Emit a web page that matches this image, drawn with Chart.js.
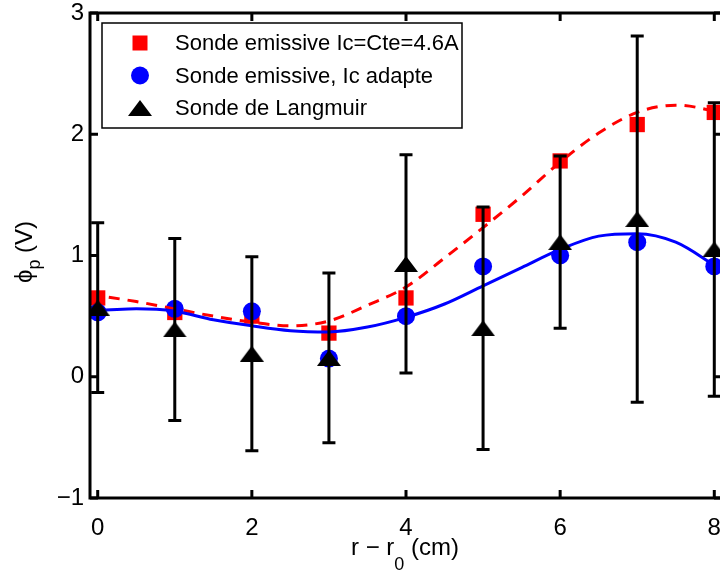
<!DOCTYPE html>
<html>
<head>
<meta charset="utf-8">
<script src="https://cdn.jsdelivr.net/npm/chart.js@4.4.1/dist/chart.umd.min.js"></script>
<style>
  html, body { margin: 0; padding: 0; background: #fff; overflow: hidden; }
  #wrap { position: absolute; left: 0; top: 0; width: 735px; height: 576px; }
</style>
</head>
<body>
<div id="wrap"><canvas id="potChart" width="735" height="576"></canvas></div>
<script>
// Radial positions r - r0 (cm)
const positions = [0, 1, 2, 3, 4, 5, 6, 7, 8];

// Plasma potential (V) for each probe
const emisCte = [0.65, 0.53, 0.50, 0.36, 0.65, 1.34, 1.78, 2.08, 2.18];
const emisAdapt = [0.53, 0.56, 0.54, 0.15, 0.50, 0.91, 1.00, 1.11, 0.91];
const langmuir = [0.57, 0.39, 0.19, 0.155, 0.93, 0.40, 1.11, 1.30, 1.05];
const langmuirErr = [0.70, 0.75, 0.80, 0.70, 0.90, 1.00, 0.71, 1.51, 1.21];

// Smoothed curves
const fitX = [-0.1, 0, 0.5, 1, 1.5, 2, 2.5, 3, 3.5, 4, 4.5, 5, 5.5, 6, 6.5, 7, 7.5, 8, 8.1];
const fitCte = [0.68, 0.67, 0.62, 0.56, 0.50, 0.45, 0.42, 0.46, 0.59, 0.74, 0.98, 1.23, 1.49, 1.77, 2.01, 2.18, 2.24, 2.19, 2.17];
const fitAdapt = [0.55, 0.55, 0.56, 0.54, 0.47, 0.42, 0.38, 0.37, 0.41, 0.49, 0.60, 0.75, 0.90, 1.05, 1.16, 1.18, 1.11, 0.92, 0.88];

const xTicks = [0, 2, 4, 6, 8];
const yTicks = [-1, 0, 1, 2, 3];

const legendLabels = ["Sonde emissive Ic=Cte=4.6A", "Sonde emissive, Ic adapte", "Sonde de Langmuir"];

const FONT = "'Liberation Sans', Arial, Helvetica, sans-serif";
const toPts = (xs, ys) => xs.map((x, i) => ({ x: x, y: ys[i] }));

// wide matlab-like triangle marker
function triangleMarker(w, h, color) {
    const c = document.createElement("canvas");
    c.width = w; c.height = h;
    const g = c.getContext("2d");
    g.fillStyle = color;
    g.beginPath();
    g.moveTo(w / 2, 0);
    g.lineTo(w, h);
    g.lineTo(0, h);
    g.closePath();
    g.fill();
    return c;
}
const tri = triangleMarker(24, 16, "#000");

// error bars on the Langmuir points
const errorBars = {
    id: "errorBars",
    afterDatasetsDraw(chart) {
        const ctx = chart.ctx;
        const xs = chart.scales.x, ys = chart.scales.y;
        ctx.save();
        ctx.strokeStyle = "#000";
        ctx.lineWidth = 3;
        positions.forEach((p, i) => {
            const px = xs.getPixelForValue(p);
            const top = ys.getPixelForValue(langmuir[i] + langmuirErr[i]);
            const bot = ys.getPixelForValue(langmuir[i] - langmuirErr[i]);
            ctx.beginPath();
            ctx.moveTo(px, top); ctx.lineTo(px, bot);
            ctx.moveTo(px - 6.5, top); ctx.lineTo(px + 6.5, top);
            ctx.moveTo(px - 6.5, bot); ctx.lineTo(px + 6.5, bot);
            ctx.stroke();
        });
        ctx.restore();
    }
};

// box frame with inward ticks, axis titles
const frame = {
    id: "frame",
    afterDraw(chart) {
        const ctx = chart.ctx;
        const a = chart.chartArea;
        const xs = chart.scales.x, ys = chart.scales.y;
        ctx.save();
        ctx.strokeStyle = "#000";
        ctx.lineWidth = 3;
        ctx.strokeRect(a.left, a.top, a.right - a.left, a.bottom - a.top);
        ctx.beginPath();
        xTicks.forEach(v => {
            const px = xs.getPixelForValue(v);
            ctx.moveTo(px, a.bottom); ctx.lineTo(px, a.bottom - 8);
            ctx.moveTo(px, a.top); ctx.lineTo(px, a.top + 8);
        });
        yTicks.forEach(v => {
            const py = ys.getPixelForValue(v);
            ctx.moveTo(a.left, py); ctx.lineTo(a.left + 8, py);
            ctx.moveTo(a.right, py); ctx.lineTo(a.right - 8, py);
        });
        ctx.stroke();

        // x title: r - r0 (cm)
        ctx.fillStyle = "#000";
        ctx.textBaseline = "alphabetic";
        ctx.textAlign = "left";
        const big = "24px " + FONT, small = "18px " + FONT;
        ctx.font = big;
        const p1 = "r \u2212 r", p3 = " (cm)";
        const w1 = ctx.measureText(p1).width, w3 = ctx.measureText(p3).width;
        ctx.font = small;
        const w2 = ctx.measureText("0").width;
        const sx = 405 - (w1 + w2 + w3) / 2;
        ctx.font = big; ctx.fillText(p1, sx, 555);
        ctx.font = small; ctx.fillText("0", sx + w1, 570);
        ctx.font = big; ctx.fillText(p3, sx + w1 + w2, 555);

        // y title: phi_p (V)
        ctx.save();
        ctx.translate(32, 252);
        ctx.rotate(-Math.PI / 2);
        ctx.font = big;
        const q1 = "\u03d5", q3 = " (V)";
        const v1 = ctx.measureText(q1).width, v3 = ctx.measureText(q3).width;
        ctx.font = small;
        const v2 = ctx.measureText("p").width;
        const sy = -(v1 + v2 + v3) / 2;
        ctx.font = big; ctx.fillText(q1, sy, 0);
        ctx.font = small; ctx.fillText("p", sy + v1, 8);
        ctx.font = big; ctx.fillText(q3, sy + v1 + v2, 0);
        ctx.restore();
        ctx.restore();
    }
};

// legend box inside the axes
const legendBox = {
    id: "legendBox",
    afterDraw(chart) {
        const ctx = chart.ctx;
        const left = 102, top = 23, w = 360, h = 105;
        ctx.save();
        ctx.fillStyle = "#fff";
        ctx.fillRect(left, top, w, h);
        ctx.strokeStyle = "#000";
        ctx.lineWidth = 1.5;
        ctx.strokeRect(left, top, w, h);
        ctx.font = "22px " + FONT;
        ctx.textBaseline = "middle";
        ctx.textAlign = "left";
        legendLabels.forEach((lab, i) => {
            const y = top + 20 + i * 32.5;
            const mx = left + 38;
            if (i === 0) {
                ctx.fillStyle = "#ff0000";
                ctx.fillRect(mx - 7.5, y - 7.5, 15, 15);
            } else if (i === 1) {
                ctx.fillStyle = "#0000ff";
                ctx.beginPath();
                ctx.arc(mx, y, 9, 0, Math.PI * 2);
                ctx.fill();
            } else {
                ctx.drawImage(tri, mx - 12, y - 8);
            }
            ctx.fillStyle = "#000";
            ctx.fillText(lab, left + 73, y + 1);
        });
        ctx.restore();
    }
};

const data = {
    datasets: [
        {
            label: legendLabels[2],
            data: toPts(positions, langmuir),
            pointStyle: tri,
            pointRadius: 12,
            backgroundColor: "#000",
            borderColor: "#000",
            order: 0
        },
        {
            label: "fit adapte",
            data: toPts(fitX, fitAdapt),
            showLine: true,
            borderColor: "#0000ff",
            borderWidth: 3,
            pointRadius: 0,
            cubicInterpolationMode: "monotone",
            order: 1
        },
        {
            label: "fit Cte",
            data: toPts(fitX, fitCte),
            showLine: true,
            borderColor: "#ff0000",
            borderWidth: 3,
            borderDash: [11, 8],
            pointRadius: 0,
            cubicInterpolationMode: "monotone",
            order: 2
        },
        {
            label: legendLabels[1],
            data: toPts(positions, emisAdapt),
            pointStyle: "circle",
            pointRadius: 9,
            borderWidth: 0,
            backgroundColor: "#0000ff",
            borderColor: "#0000ff",
            order: 3
        },
        {
            label: legendLabels[0],
            data: toPts(positions, emisCte),
            pointStyle: "rect",
            pointRadius: 10.8,
            borderWidth: 0,
            backgroundColor: "#ff0000",
            borderColor: "#ff0000",
            order: 4
        }
    ]
};

const tickFont = { family: FONT, size: 24 };

const config = {
    type: "scatter",
    data: data,
    options: {
        responsive: false,
        animation: false,
        events: [],
        layout: { padding: { top: 11, right: 0, left: 0, bottom: 0 } },
        plugins: {
            legend: { display: false },
            tooltip: { enabled: false }
        },
        scales: {
            x: {
                type: "linear",
                min: -0.1,
                max: 8.1,
                grid: { display: false, drawTicks: false },
                border: { display: false },
                ticks: { font: tickFont, color: "#000", padding: 16, maxRotation: 0 },
                afterBuildTicks: s => { s.ticks = xTicks.map(v => ({ value: v })); },
                afterFit: s => { s.height = 78; s.paddingLeft = 0; s.paddingRight = 0; }
            },
            y: {
                type: "linear",
                min: -1,
                max: 3,
                grid: { display: false, drawTicks: false },
                border: { display: false },
                ticks: {
                    font: tickFont,
                    color: "#000",
                    padding: 6,
                    callback: v => v < 0 ? "\u2212" + Math.abs(v) : String(v)
                },
                afterBuildTicks: s => { s.ticks = yTicks.map(v => ({ value: v })); },
                afterFit: s => { s.width = 90; s.paddingTop = 0; s.paddingBottom = 0; }
            }
        }
    },
    plugins: [errorBars, frame, legendBox]
};

new Chart(document.getElementById("potChart"), config);
</script>
</body>
</html>
